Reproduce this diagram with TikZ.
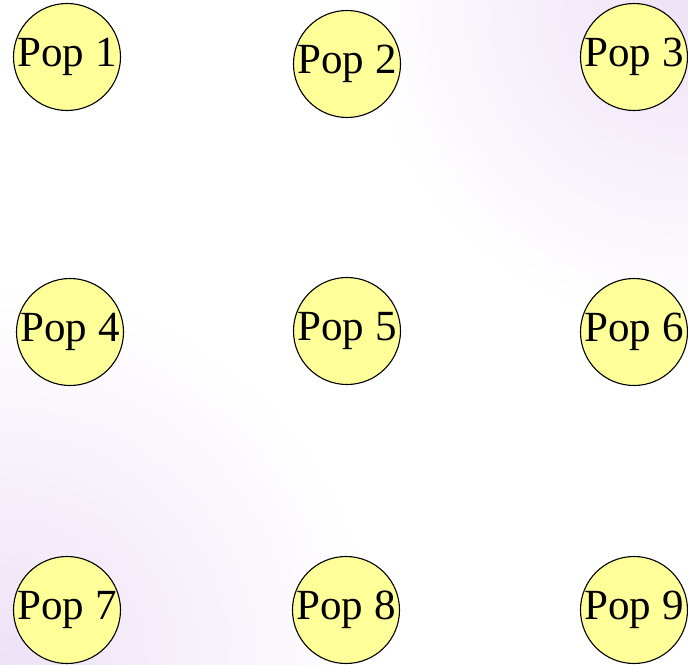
\documentclass[tikz,border=0pt]{standalone}
\usepackage{fontspec}
\setmainfont{Liberation Serif}
\definecolor{popfill}{HTML}{FFFF99}
\definecolor{lilac}{HTML}{EEE2F6}
\tikzset{pop/.style={circle, draw=black, line width=1.1pt, fill=popfill,
  minimum size=107pt, inner sep=0pt, font=\fontsize{43}{43}\selectfont}}

\begin{document}
\begin{tikzpicture}[x=1pt, y=-1pt]
\useasboundingbox (0,0) rectangle (688,664);
\begin{scope}
\clip (0,0) rectangle (688,664);
\fill[white] (0,0) rectangle (688,664);
\shade[inner color=lilac, outer color=white] (0,664) circle (380);
\shade[inner color=lilac, outer color=white] (688,0) circle (330);
\end{scope}
%
\node[pop] (p1) at (67,57)   {Pop 1};
\node[pop] (p2) at (347,64)  {Pop 2};
\node[pop] (p3) at (634,57)  {Pop 3};
\node[pop] (p4) at (70,332)  {Pop 4};
\node[pop] (p5) at (347,331) {Pop 5};
\node[pop] (p6) at (634,332) {Pop 6};
\node[pop] (p7) at (67,610)  {Pop 7};
\node[pop] (p8) at (346,610) {Pop 8};
\node[pop] (p9) at (634,610) {Pop 9};
\end{tikzpicture}
\end{document}
